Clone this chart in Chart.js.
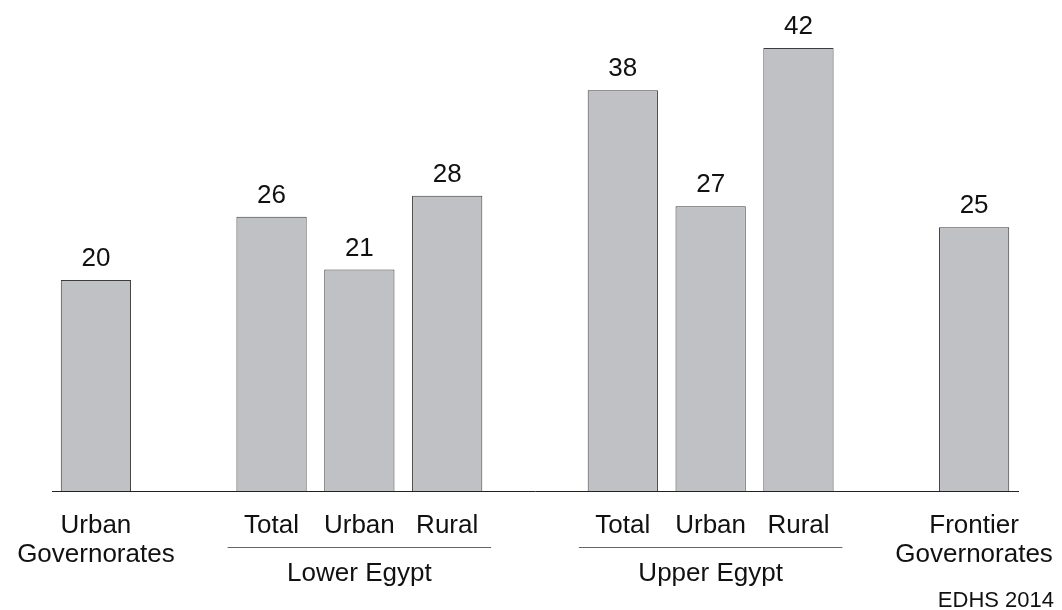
<!DOCTYPE html>
<html>
<head>
<meta charset="utf-8">
<script src="https://cdn.jsdelivr.net/npm/chart.js@4"></script>
<style>
  html, body { margin: 0; padding: 0; background: #fff; }
  #wrap { width: 1062px; height: 610px; }
</style>
</head>
<body>
<div id="wrap"><canvas id="grafico" width="1062" height="610"></canvas></div>
<script>
// categorias (as vazias servem de espaco entre os grupos)
const categorias = [['Urban', 'Governorates'], '', 'Total', 'Urban', 'Rural', '', 'Total', 'Urban', 'Rural', '', ['Frontier', 'Governorates']];
const valores = [20, null, 26, 21, 28, null, 38, 27, 42, null, 25];
const grupos = ['Lower Egypt', 'Upper Egypt'];
const grupoInicio = [2, 6];
const grupoFim = [4, 8];
const fonte = 'EDHS 2014';

const FONTE_TXT = '"Liberation Sans", Arial, sans-serif';

// desenha rotulos, numeros e linhas dos grupos
const rotulosPlugin = {
  id: 'rotulos',
  afterDraw(chart) {
    const ctx = chart.ctx;
    const x = chart.scales.x;
    const base = chart.chartArea.bottom;
    const meta = chart.getDatasetMeta(0);
    const meioSlot = (x.getPixelForValue(1) - x.getPixelForValue(0)) / 2;

    ctx.save();
    ctx.fillStyle = '#111';
    ctx.textAlign = 'center';
    ctx.textBaseline = 'alphabetic';
    ctx.font = '26px ' + FONTE_TXT;

    // valores acima das barras
    meta.data.forEach((barra, i) => {
      if (valores[i] == null) return;
      ctx.fillText(String(valores[i]), barra.x, barra.y - 14);
    });

    // rotulos das categorias
    categorias.forEach((cat, i) => {
      const linhas = Array.isArray(cat) ? cat : [cat];
      const cx = x.getPixelForValue(i);
      linhas.forEach((l, j) => {
        if (l) ctx.fillText(l, cx, base + 42 + j * 29);
      });
    });

    // linhas e nomes dos grupos
    grupos.forEach((g, k) => {
      const x1 = x.getPixelForValue(grupoInicio[k]) - meioSlot;
      const x2 = x.getPixelForValue(grupoFim[k]) + meioSlot;
      ctx.strokeStyle = '#666';
      ctx.lineWidth = 1;
      ctx.beginPath();
      ctx.moveTo(x1, base + 56.5);
      ctx.lineTo(x2, base + 56.5);
      ctx.stroke();
      ctx.fillText(g, (x1 + x2) / 2, base + 90);
    });

    // fonte dos dados
    ctx.font = '22px ' + FONTE_TXT;
    ctx.textAlign = 'right';
    ctx.fillText(fonte, 1054, 607);
    ctx.restore();
  }
};

new Chart(document.getElementById('grafico').getContext('2d'), {
  type: 'bar',
  data: {
    labels: categorias,
    datasets: [{
      data: valores,
      backgroundColor: '#c0c1c5',
      borderColor: '#3c3c3c',
      borderWidth: 1,
      barPercentage: 0.8,
      categoryPercentage: 1.0
    }]
  },
  options: {
    responsive: false,
    animation: false,
    layout: { padding: { left: 52, right: 44, top: 27, bottom: 119 } },
    plugins: { legend: { display: false }, tooltip: { enabled: false } },
    scales: {
      x: {
        offset: true,
        grid: { display: false, drawTicks: false },
        ticks: { display: false },
        border: { display: true, color: '#222', width: 1 }
      },
      y: { display: false, min: 0, max: 44 }
    }
  },
  plugins: [rotulosPlugin]
});
</script>
</body>
</html>
